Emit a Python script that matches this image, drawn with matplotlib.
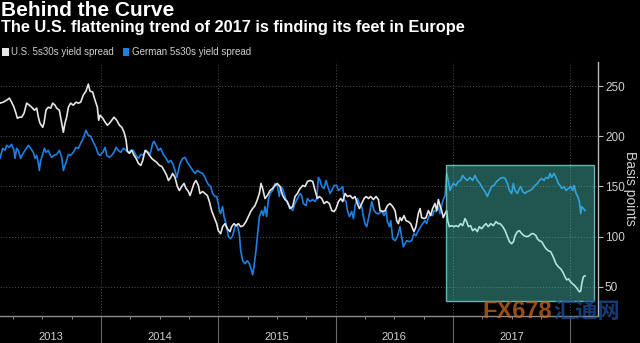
import matplotlib
matplotlib.use("Agg")
import matplotlib.pyplot as plt
from matplotlib.patches import Rectangle, Patch
from matplotlib.transforms import blended_transform_factory

# ---------------- data ----------------
title = "Behind the Curve"
subtitle = "The U.S. flattening trend of 2017 is finding its feet in Europe"
series_names = ["U.S. 5s30s yield spread", "German 5s30s yield spread"]
y_label = "Basis points"
year_labels = ["2013", "2014", "2015", "2016", "2017"]
y_ticks = [50, 100, 150, 200, 250]
watermark = ["FX678", "汇通网"]

# time in decimal years
us_time = [
    2013.138, 2013.166, 2013.195, 2013.218, 2013.237, 2013.257, 2013.274, 2013.286, 2013.303, 2013.323,
    2013.343, 2013.365, 2013.388, 2013.408, 2013.431, 2013.451, 2013.465, 2013.479, 2013.502, 2013.513,
    2013.530, 2013.550, 2013.570, 2013.587, 2013.607, 2013.621, 2013.644, 2013.664, 2013.678, 2013.692,
    2013.706, 2013.721, 2013.740, 2013.763, 2013.786, 2013.806, 2013.826, 2013.848, 2013.871, 2013.891,
    2013.905, 2013.928, 2013.948, 2013.968, 2013.979,
    2013.991, 2014.014, 2014.034, 2014.054, 2014.071, 2014.090, 2014.110, 2014.133, 2014.156, 2014.176,
    2014.196, 2014.213, 2014.224, 2014.241, 2014.261, 2014.281, 2014.298, 2014.318, 2014.338, 2014.355,
    2014.375, 2014.395, 2014.412, 2014.431, 2014.451, 2014.474, 2014.497, 2014.517, 2014.537, 2014.559,
    2014.574, 2014.593, 2014.610, 2014.630, 2014.650, 2014.667, 2014.687, 2014.707, 2014.724, 2014.744,
    2014.758, 2014.772, 2014.792, 2014.809, 2014.829,
    2014.843, 2014.866, 2014.886, 2014.906, 2014.923, 2014.942, 2014.962, 2014.985, 2014.999, 2015.019,
    2015.036, 2015.056, 2015.076, 2015.099, 2015.113, 2015.133, 2015.150, 2015.170, 2015.190, 2015.212,
    2015.235, 2015.255, 2015.275, 2015.292, 2015.312, 2015.332, 2015.349, 2015.363, 2015.377, 2015.397,
    2015.417, 2015.440, 2015.462, 2015.482, 2015.502, 2015.525, 2015.548, 2015.568, 2015.588, 2015.610,
    2015.633, 2015.653, 2015.673,
    2015.696, 2015.719, 2015.739, 2015.759, 2015.781, 2015.804, 2015.824, 2015.844, 2015.861, 2015.881,
    2015.901, 2015.923, 2015.946, 2015.966, 2015.986, 2016.003, 2016.023, 2016.043, 2016.060, 2016.080,
    2016.100, 2016.122, 2016.145, 2016.165, 2016.185, 2016.202, 2016.222, 2016.242, 2016.259, 2016.279,
    2016.298, 2016.321, 2016.344, 2016.364, 2016.378, 2016.401, 2016.421, 2016.441, 2016.463, 2016.486,
    2016.506, 2016.520, 2016.534,
    2016.548, 2016.562, 2016.582, 2016.599, 2016.619, 2016.639, 2016.656, 2016.667, 2016.684, 2016.704,
    2016.719, 2016.733, 2016.753, 2016.770, 2016.790, 2016.809, 2016.826, 2016.846, 2016.861, 2016.875,
    2016.889, 2016.903, 2016.917, 2016.932, 2016.946, 2016.954, 2016.969, 2016.988, 2017.008, 2017.025,
    2017.045, 2017.065, 2017.082, 2017.102, 2017.116, 2017.131, 2017.150, 2017.167, 2017.187, 2017.207,
    2017.224, 2017.244, 2017.264, 2017.281, 2017.301, 2017.321, 2017.344, 2017.366, 2017.386,
    2017.401, 2017.424, 2017.444, 2017.464, 2017.481, 2017.500, 2017.515, 2017.529, 2017.549, 2017.566,
    2017.586, 2017.606, 2017.628, 2017.651, 2017.671, 2017.685, 2017.708, 2017.719, 2017.736, 2017.756,
    2017.776, 2017.793, 2017.813, 2017.833, 2017.850, 2017.861, 2017.878, 2017.898, 2017.918, 2017.935,
    2017.955, 2017.969, 2017.984, 2018.003, 2018.020, 2018.040, 2018.060, 2018.077, 2018.089, 2018.097,
    2018.111, 2018.126,
]
us_spread = [
    233, 234, 236, 238, 234, 229, 223, 218, 219, 219, 223, 233, 231, 229, 226, 228, 219, 213, 209, 213,
    226, 229, 228, 233, 231, 228, 226, 213, 204, 213, 219, 229, 233, 231, 234, 233, 234, 241, 245, 252,
    245, 244, 236, 229, 216,
    221, 218, 214, 211, 213, 216, 219, 216, 211, 209, 204, 196, 185, 183, 186, 181, 178, 173, 171, 176,
    186, 184, 181, 178, 176, 174, 171, 170, 166, 161, 156, 159, 163, 159, 150, 146, 150, 153, 148, 145,
    141, 146, 153, 156, 151,
    143, 145, 143, 141, 135, 126, 120, 113, 106, 103, 110, 113, 108, 105, 110, 113, 111, 113, 110, 111,
    115, 120, 125, 128, 131, 137, 143, 153, 148, 138, 141, 146, 148, 151, 153, 150, 141, 137, 135, 128,
    130, 140, 143,
    148, 151, 150, 155, 156, 155, 146, 138, 140, 138, 133, 135, 133, 126, 125, 128, 135, 138, 135, 143,
    140, 141, 138, 140, 133, 128, 133, 138, 140, 138, 140, 137, 140, 137, 126, 125, 126, 131, 133, 130,
    126, 116, 113,
    119, 116, 121, 116, 115, 113, 108, 105, 110, 123, 128, 119, 118, 119, 126, 121, 128, 133, 126, 137,
    131, 126, 119, 123, 126, 116, 110, 111, 110, 111, 110, 113, 111, 118, 115, 110, 111, 106, 108, 105,
    110, 108, 111, 113, 110, 113, 111, 115, 113,
    113, 110, 106, 100, 95, 93, 95, 101, 105, 106, 103, 101, 100, 101, 103, 103, 101, 98, 96, 95,
    91, 88, 86, 85, 81, 78, 73, 70, 68, 65, 60, 57, 58, 55, 53, 51, 48, 45, 46, 53,
    60, 61,
]

de_time = [
    2013.138, 2013.161, 2013.181, 2013.195, 2013.218, 2013.237, 2013.257, 2013.266, 2013.280, 2013.294,
    2013.314, 2013.331, 2013.351, 2013.380, 2013.399, 2013.422, 2013.436, 2013.451, 2013.465, 2013.473,
    2013.485, 2013.502, 2013.516, 2013.530, 2013.550, 2013.564, 2013.578, 2013.598, 2013.621, 2013.644,
    2013.664, 2013.678, 2013.692, 2013.706, 2013.721, 2013.740, 2013.763, 2013.786, 2013.806, 2013.826,
    2013.848, 2013.871, 2013.891, 2013.911, 2013.934, 2013.956, 2013.976,
    2013.991, 2014.014, 2014.034, 2014.048, 2014.071, 2014.090, 2014.110, 2014.127, 2014.147, 2014.167,
    2014.190, 2014.213, 2014.233, 2014.252, 2014.275, 2014.298, 2014.318, 2014.338, 2014.360, 2014.383,
    2014.403, 2014.417, 2014.440, 2014.451, 2014.468, 2014.488, 2014.508, 2014.531, 2014.554, 2014.574,
    2014.593, 2014.610, 2014.630, 2014.645, 2014.659, 2014.673, 2014.696, 2014.716, 2014.736, 2014.758,
    2014.781, 2014.801, 2014.821,
    2014.843, 2014.866, 2014.886, 2014.900, 2014.914, 2014.934, 2014.951, 2014.971, 2014.985, 2014.999,
    2015.008, 2015.019, 2015.036, 2015.048, 2015.065, 2015.085, 2015.104, 2015.121, 2015.141, 2015.161,
    2015.178, 2015.190, 2015.207, 2015.227, 2015.247, 2015.264, 2015.283, 2015.292, 2015.303, 2015.320,
    2015.332, 2015.349, 2015.369, 2015.383, 2015.397, 2015.411, 2015.426, 2015.440, 2015.462, 2015.482,
    2015.502, 2015.519, 2015.531, 2015.548, 2015.568, 2015.588, 2015.610, 2015.633, 2015.653, 2015.673,
    2015.696, 2015.710, 2015.724, 2015.747, 2015.759, 2015.781, 2015.804, 2015.824, 2015.838, 2015.852,
    2015.867, 2015.881, 2015.901, 2015.918, 2015.938, 2015.952, 2015.966, 2015.986, 2016.009, 2016.023,
    2016.043, 2016.060, 2016.071, 2016.088, 2016.100, 2016.117, 2016.136, 2016.151, 2016.165, 2016.185,
    2016.202, 2016.222, 2016.236, 2016.250, 2016.264, 2016.279, 2016.293, 2016.307, 2016.327, 2016.350,
    2016.372, 2016.392, 2016.412, 2016.429, 2016.441, 2016.458, 2016.469, 2016.486, 2016.506, 2016.526,
    2016.548, 2016.562, 2016.576, 2016.591, 2016.605, 2016.628, 2016.647, 2016.667, 2016.684, 2016.704,
    2016.724, 2016.741, 2016.761, 2016.775, 2016.790, 2016.809, 2016.826, 2016.838, 2016.855, 2016.875,
    2016.889, 2016.903, 2016.917, 2016.932, 2016.946, 2016.960, 2016.974, 2016.988, 2017.003, 2017.025,
    2017.045, 2017.065, 2017.082, 2017.102, 2017.122, 2017.145, 2017.167, 2017.187, 2017.207, 2017.230,
    2017.253, 2017.273, 2017.293, 2017.310, 2017.329, 2017.349, 2017.372,
    2017.401, 2017.424, 2017.444, 2017.464, 2017.481, 2017.500, 2017.515, 2017.529, 2017.549, 2017.566,
    2017.577, 2017.594, 2017.614, 2017.634, 2017.657, 2017.679, 2017.699, 2017.719, 2017.736, 2017.756,
    2017.776, 2017.793, 2017.813, 2017.827, 2017.841, 2017.861, 2017.878, 2017.898, 2017.913, 2017.927,
    2017.947, 2017.964, 2017.984, 2018.003, 2018.020, 2018.032, 2018.049, 2018.060, 2018.077, 2018.089,
    2018.097, 2018.111, 2018.126,
]
de_spread = [
    178, 188, 186, 191, 189, 192, 186, 178, 188, 186, 178, 182, 186, 191, 188, 184, 178, 181, 173, 166,
    176, 182, 188, 184, 186, 182, 179, 181, 182, 186, 179, 166, 171, 176, 182, 181, 184, 189, 188, 193,
    198, 206, 201, 200, 194, 189, 182,
    181, 184, 189, 181, 179, 181, 184, 189, 186, 184, 188, 186, 184, 186, 186, 181, 178, 182, 181, 186,
    184, 182, 193, 195, 191, 186, 188, 182, 178, 174, 176, 173, 166, 159, 166, 173, 178, 179, 174, 170,
    166, 163, 166,
    164, 163, 159, 155, 152, 150, 143, 140, 140, 133, 126, 123, 130, 120, 113, 100, 98, 101, 110, 111,
    103, 86, 76, 73, 76, 73, 66, 62, 70, 86, 100, 120, 126, 121, 130, 120, 137, 143, 146, 153,
    151, 140, 150, 148, 140, 133, 130, 126, 133, 138,
    143, 141, 133, 131, 138, 135, 137, 135, 138, 159, 156, 150, 148, 156, 148, 143, 146, 151, 151, 146,
    148, 150, 137, 135, 126, 120, 125, 118, 131, 138, 133, 130, 120, 113, 110, 118, 126, 135, 126, 123,
    123, 126, 121, 126, 115, 110, 116, 98, 96, 100,
    110, 100, 90, 93, 96, 95, 96, 103, 101, 106, 110, 113, 116, 113, 119, 123, 121, 126, 125, 130,
    123, 131, 137, 141, 163, 156, 146, 150, 153, 151, 155, 156, 161, 158, 156, 159, 156, 161, 156, 153,
    148, 145, 140, 145, 150, 151, 155,
    158, 159, 158, 153, 146, 143, 153, 146, 143, 148, 150, 145, 143, 145, 146, 148, 151, 153, 156, 158,
    156, 159, 158, 163, 159, 163, 159, 153, 151, 148, 150, 146, 148, 150, 146, 151, 143, 141, 135, 123,
    130, 128, 126,
]

# highlighted window (decimal years / basis points)
highlight_start, highlight_end = 2016.94, 2018.20
highlight_low, highlight_high = 36, 171.5

# ---------------- style ----------------
BG = "black"
US_COLOR = "#e6e6e6"
DE_COLOR = "#1f7fe0"
TEXT = "#d0d0d0"
FONT = ["Liberation Sans", "DejaVu Sans"]
plt.rcParams["font.family"] = FONT

W, H = 640, 343
fig = plt.figure(figsize=(W / 100, H / 100), dpi=100, facecolor=BG)
ax_left, ax_right, ax_top, ax_bottom = 0, 598, 62, 316
ax = fig.add_axes([ax_left / W, 1 - ax_bottom / H, (ax_right - ax_left) / W, (ax_bottom - ax_top) / H])
ax.set_facecolor(BG)

ax.plot(de_time, de_spread, color=DE_COLOR, lw=1.2, zorder=3, solid_joinstyle="round")
ax.plot(us_time, us_spread, color=US_COLOR, lw=1.2, zorder=3, solid_joinstyle="round")

ax.add_patch(Rectangle((highlight_start, highlight_low), highlight_end - highlight_start,
                       highlight_high - highlight_low,
                       facecolor=(0.34, 0.88, 0.83, 0.38), edgecolor=(0.45, 0.82, 0.78, 0.85),
                       lw=1.0, zorder=5))

# spines
for s in ["left", "top"]:
    ax.spines[s].set_visible(False)
ax.spines["right"].set_color("#bbbbbb")
ax.spines["right"].set_linewidth(1.0)
ax.spines["bottom"].set_color("#8a8a8a")
ax.spines["bottom"].set_linewidth(1.0)

# y axis
ax.yaxis.tick_right()
ax.set_yticks(y_ticks)
ax.set_yticklabels([str(v) for v in y_ticks])
ax.tick_params(axis="y", colors="#bbbbbb", labelcolor=TEXT, length=3.5, width=0.8,
               labelsize=8.5, pad=1.5)
fig.text(630 / W, 1 - 188 / H, y_label, rotation=270, color=TEXT, fontsize=10,
         ha="center", va="center")

# x axis
x_min, x_max = 2013.138, 2018.236
year_bounds = [2014, 2015, 2016, 2017, 2018]
ax.set_xticks(year_bounds)
ax.set_xticklabels([])
ax.tick_params(axis="x", which="major", colors="#6a6a6a", length=19.5, width=0.8)
quarters = [y + q for y in range(2013, 2019) for q in (0.25, 0.5, 0.75)]
ax.set_xticks(quarters, minor=True)
ax.tick_params(axis="x", which="minor", colors="#8a8a8a", length=2.5, width=0.7)

# limits set after ticks so the ticks do not widen them
ax.set_xlim(x_min, x_max)
ax.set_ylim(21, 274)

trans = blended_transform_factory(ax.transData, ax.transAxes)
for lab in year_labels:
    y0 = max(int(lab), x_min)
    y1 = min(int(lab) + 1, x_max)
    ax.text((y0 + y1) / 2, -0.083, lab, transform=trans, ha="center", va="center",
            color=TEXT, fontsize=8)

ax.grid(True, which="major", color="#505050", linestyle=(0, (1, 2)), linewidth=0.7)
ax.set_axisbelow(True)

# titles
fig.text(1 / W, 1 - 1 / H, title, color="white", fontsize=15, fontweight="bold", va="top", ha="left")
fig.text(1 / W, 1 - 20 / H, subtitle, color="white", fontsize=11.8, fontweight="bold", va="top", ha="left")

# legend
handles = [Patch(facecolor=US_COLOR, edgecolor="none"), Patch(facecolor=DE_COLOR, edgecolor="none")]
leg = fig.legend(handles, series_names, loc="center left", bbox_to_anchor=(0, 1 - 52 / H), ncol=2,
                 frameon=False, fontsize=7, labelcolor=TEXT, handlelength=0.7, handleheight=0.9,
                 handletextpad=0.25, columnspacing=0.9, borderaxespad=0, borderpad=0.2)

# watermark
fig.text(482 / W, 1 - 312 / H, watermark[0], color="#c8681e", alpha=0.75, fontsize=17,
         fontweight="bold", va="center", ha="left")
fig.text(553 / W, 1 - 312 / H, watermark[1], color="#1f4f9a", alpha=0.75, fontsize=16,
         fontweight="bold", va="center", ha="left", family=["Noto Sans CJK SC", "DejaVu Sans"])

fig.savefig("out.png", dpi=100, facecolor=BG)
